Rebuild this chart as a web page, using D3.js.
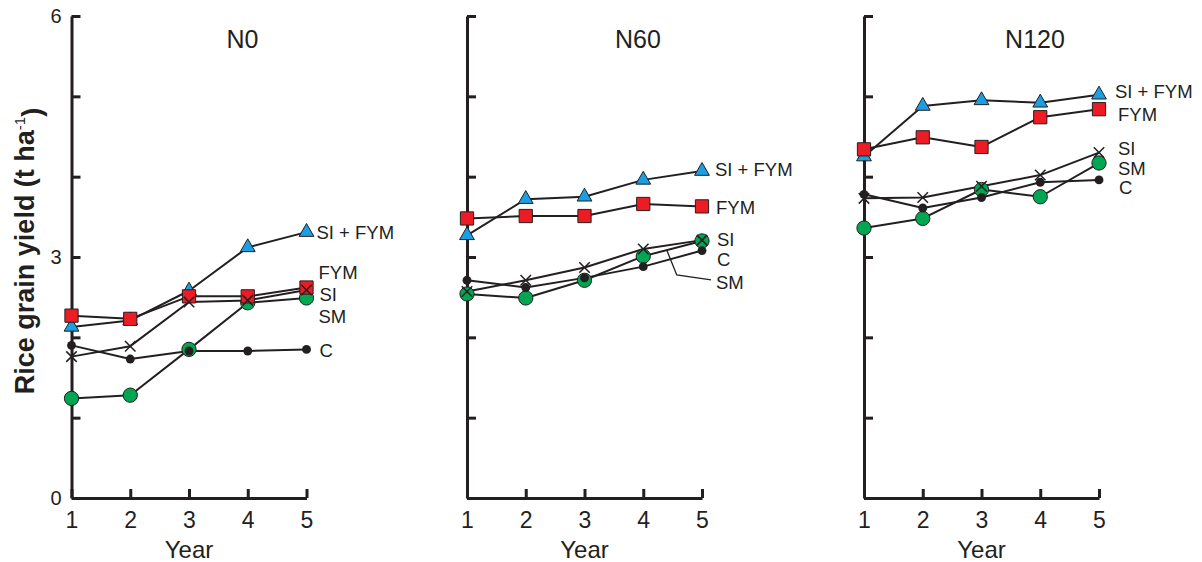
<!DOCTYPE html>
<html>
<head>
<meta charset="utf-8">
<script src="https://cdn.jsdelivr.net/npm/d3@7"></script>
<style>
  body { margin: 0; background: #fff; }
  svg { display: block; }
  text { font-family: "Liberation Sans", Arial, Helvetica, sans-serif; fill: #231f20; }
</style>
</head>
<body>
<svg id="chart" width="1202" height="562"></svg>
<script>
// ---- data: rice grain yield (t/ha) by year, per N level and treatment ----
const years = [1, 2, 3, 4, 5];
const nLevels = ["N0", "N60", "N120"];
const treatments = ["SI + FYM", "FYM", "SI", "SM", "C"];
const yTicks = [0, 1, 2, 3, 4, 5, 6];
const yTickLabels = [0, 3, 6];

const n0SiFym = [2.13, 2.21, 2.58, 3.12, 3.31];
const n0Fym   = [2.27, 2.23, 2.51, 2.51, 2.62];
const n0Si    = [1.76, 1.89, 2.44, 2.46, 2.59];
const n0Sm    = [1.24, 1.28, 1.85, 2.43, 2.49];
const n0C     = [1.90, 1.73, 1.83, 1.83, 1.85];

const n60SiFym = [3.27, 3.72, 3.75, 3.96, 4.07];
const n60Fym   = [3.48, 3.51, 3.51, 3.66, 3.63];
const n60Si    = [2.57, 2.71, 2.87, 3.10, 3.21];
const n60Sm    = [2.54, 2.49, 2.71, 3.01, 3.20];
const n60C     = [2.71, 2.62, 2.74, 2.88, 3.08];

const n120SiFym = [4.25, 4.88, 4.95, 4.92, 5.02];
const n120Fym   = [4.34, 4.49, 4.37, 4.74, 4.84];
const n120Si    = [3.73, 3.74, 3.88, 4.02, 4.30];
const n120Sm    = [3.36, 3.48, 3.84, 3.75, 4.17];
const n120C     = [3.78, 3.61, 3.74, 3.93, 3.96];

const panelSeries = [
  { "SI + FYM": n0SiFym,   "FYM": n0Fym,   "SI": n0Si,   "SM": n0Sm,   "C": n0C },
  { "SI + FYM": n60SiFym,  "FYM": n60Fym,  "SI": n60Si,  "SM": n60Sm,  "C": n60C },
  { "SI + FYM": n120SiFym, "FYM": n120Fym, "SI": n120Si, "SM": n120Sm, "C": n120C }
];

// ---- layout ----
const panelLeft = [71.5, 467, 864];
const panelWidth = 235;
const plotTop = 16, plotBottom = 498;
const ink = "#231f20";

// end-of-line label nudges [dx, dy] in px from each series' last point
const labelNudge = [
  { "SI + FYM": [10, 0],  "FYM": [12, -15], "SI": [13, 5],  "SM": [12, 19], "C": [13, 1] },
  { "SI + FYM": [13, -2], "FYM": [14, 1],   "SI": [15, -1], "SM": [14, 42], "C": [15, 9] },
  { "SI + FYM": [16, -3], "FYM": [19, 5],   "SI": [19, -4], "SM": [19, 6],  "C": [20, 8] }
];

// marker styles per treatment
const crossType = {
  draw(ctx, size) {
    const r = Math.sqrt(size) / 2;
    ctx.moveTo(-r, -r); ctx.lineTo(r, r);
    ctx.moveTo(-r, r);  ctx.lineTo(r, -r);
  }
};
const markerStyle = {
  "SI + FYM": { type: d3.symbolTriangle, size: 95,  fill: "#1b9fe2", stroke: ink, sw: 1 },
  "FYM":      { type: d3.symbolSquare,   size: 175, fill: "#ed1c24", stroke: ink, sw: 1 },
  "SM":       { type: d3.symbolCircle,   size: 160, fill: "#00a651", stroke: ink, sw: 1 },
  "C":        { type: d3.symbolCircle,   size: 62,  fill: ink,       stroke: "none", sw: 0 },
  "SI":       { type: crossType,         size: 110, fill: "none",    stroke: ink, sw: 1.5 }
};
const drawOrder = ["SM", "SI + FYM", "FYM", "C", "SI"];

const svg = d3.select("#chart");
const y = d3.scaleLinear().domain([0, 6]).range([plotBottom, plotTop]);

nLevels.forEach((level, p) => {
  const x = d3.scaleLinear().domain([1, 5]).range([panelLeft[p], panelLeft[p] + panelWidth]);
  const g = svg.append("g");
  const series = panelSeries[p];

  // y axis with inward ticks
  const yAxis = g.append("g")
    .attr("transform", `translate(${panelLeft[p]},0)`)
    .call(d3.axisRight(y).tickValues(yTicks).tickSize(9).tickSizeOuter(0).tickFormat(""));
  yAxis.selectAll("path, line").attr("stroke", ink).attr("stroke-width", 3);

  if (p === 0) {
    const yLab = g.append("g")
      .attr("transform", `translate(${panelLeft[p]},0)`)
      .call(d3.axisLeft(y).tickValues(yTickLabels).tickSize(0).tickPadding(10).tickFormat(d3.format("d")));
    yLab.select(".domain").remove();
    yLab.selectAll("text").style("font-size", "20px").attr("fill", ink);
  }

  // x axis with upward ticks
  const xAxis = g.append("g")
    .attr("transform", `translate(0,${plotBottom})`)
    .call(d3.axisBottom(x).tickValues(years).tickSize(-9).tickSizeOuter(0).tickPadding(14).tickFormat(d3.format("d")));
  xAxis.selectAll("path, line").attr("stroke", ink).attr("stroke-width", 3);
  xAxis.selectAll("text").style("font-size", "23px").attr("fill", ink);

  // x axis title
  g.append("text")
    .attr("x", x(3)).attr("y", 558)
    .attr("text-anchor", "middle")
    .style("font-size", "24px")
    .text("Year");

  // panel title
  g.append("text")
    .attr("x", panelLeft[p] + 171).attr("y", 48)
    .attr("text-anchor", "middle")
    .style("font-size", "25px")
    .text(level);

  // lines
  const line = d3.line().x((d, i) => x(years[i])).y(d => y(d));
  treatments.forEach(t => {
    g.append("path")
      .datum(series[t])
      .attr("d", line)
      .attr("fill", "none")
      .attr("stroke", ink)
      .attr("stroke-width", 2)
      .attr("stroke-linejoin", "round");
  });

  // markers
  drawOrder.forEach(t => {
    const st = markerStyle[t];
    const sym = d3.symbol().type(st.type).size(st.size);
    g.append("g").selectAll("path")
      .data(series[t])
      .join("path")
      .attr("transform", (d, i) => `translate(${x(years[i])},${y(d)})`)
      .attr("d", sym)
      .attr("fill", st.fill)
      .attr("stroke", st.stroke)
      .attr("stroke-width", st.sw);
  });

  // series labels at line ends
  treatments.forEach(t => {
    const last = series[t][series[t].length - 1];
    const [dx, dy] = labelNudge[p][t];
    g.append("text")
      .attr("x", x(5) + dx)
      .attr("y", y(last) + dy)
      .attr("dy", "0.35em")
      .style("font-size", "18.5px")
      .text(t);
  });

  // leader from the SM label back to its line (N60 panel)
  if (level === "N60") {
    const sm = series["SM"];
    const ax = 4.4;
    const av = sm[3] + (sm[4] - sm[3]) * (ax - 4);
    const px = x(ax), py = y(av);
    const lx = x(5) + labelNudge[p]["SM"][0] - 5;
    const ly = y(sm[4]) + labelNudge[p]["SM"][1] - 3;
    g.append("path")
      .attr("d", `M${lx},${ly}L${px + 10},${ly - 5}L${px},${py}`)
      .attr("fill", "none")
      .attr("stroke", ink)
      .attr("stroke-width", 1.3);
  }
});

// shared y axis title
svg.append("text")
  .attr("transform", "translate(34,251) rotate(-90)")
  .attr("text-anchor", "middle")
  .style("font-size", "27px")
  .style("font-weight", "bold")
  .text("Rice grain yield (t ha")
  .append("tspan").attr("dy", "-0.6em").style("font-size", "15px").style("font-weight", "normal").text("-1")
  .select(function () { return this.parentNode; })
  .append("tspan").attr("dy", "0.6em").text(")");
</script>
</body>
</html>
